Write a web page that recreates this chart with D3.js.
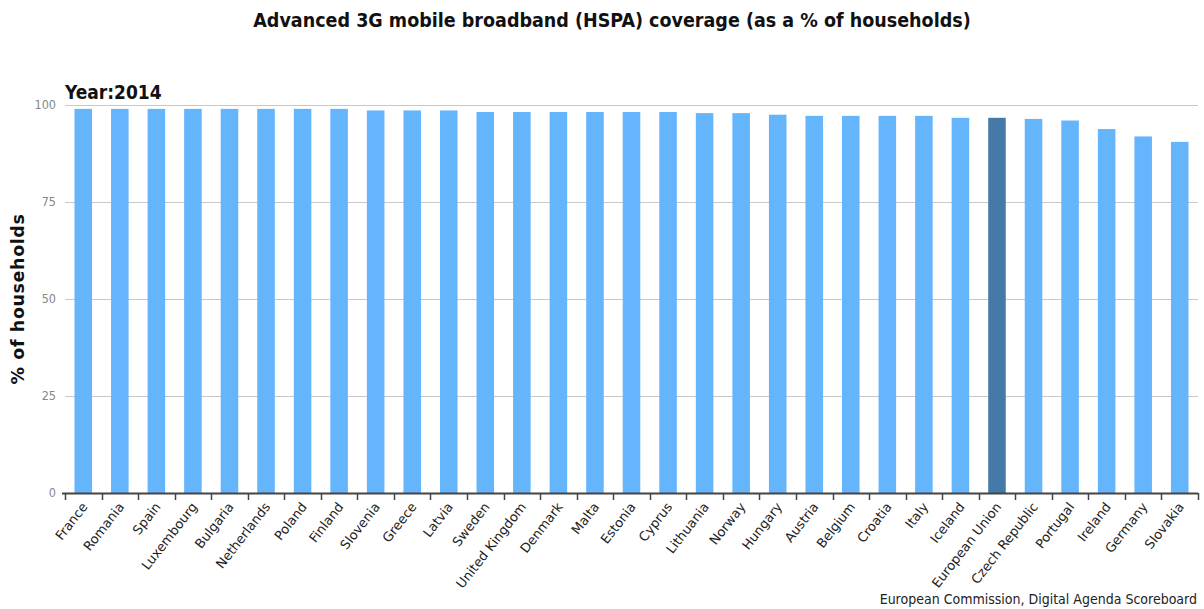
<!DOCTYPE html>
<html>
<head>
<meta charset="utf-8">
<script src="https://cdn.jsdelivr.net/npm/d3@7"></script>
<style>
  body { margin: 0; background: #fff; }
  svg { display: block; }
</style>
</head>
<body>
<div id="chart"></div>
<script>
const countries = [
    'France', 'Romania', 'Spain', 'Luxembourg', 'Bulgaria', 'Netherlands', 'Poland', 'Finland',
    'Slovenia', 'Greece', 'Latvia', 'Sweden', 'United Kingdom', 'Denmark', 'Malta', 'Estonia',
    'Cyprus', 'Lithuania', 'Norway', 'Hungary', 'Austria', 'Belgium', 'Croatia', 'Italy',
    'Iceland', 'European Union', 'Czech Republic', 'Portugal', 'Ireland', 'Germany', 'Slovakia'
];
const coverage = [
    99.0, 99.0, 99.0, 99.0, 99.0, 99.0, 99.0, 99.0,
    98.6, 98.6, 98.6, 98.2, 98.2, 98.2, 98.2, 98.2,
    98.2, 97.9, 97.9, 97.5, 97.2, 97.2, 97.2, 97.2,
    96.7, 96.7, 96.4, 96.0, 93.8, 91.9, 90.5
];
const yTicks = [0, 25, 50, 75, 100];
const highlight = 'European Union';

const width = 1204;
const height = 609;
const margin = { top: 105, right: 6, bottom: 116, left: 65 };

const data = countries.map((c, i) => ({ label: c, value: coverage[i] }));

const svg = d3.select('#chart')
    .append('svg')
    .attr('width', width)
    .attr('height', height);

const x = d3.scaleBand()
    .domain(countries)
    .range([margin.left, width - margin.right])
    .paddingInner(0.52)
    .paddingOuter(0.26);

const y = d3.scaleLinear()
    .domain([0, 100])
    .range([height - margin.bottom, margin.top]);

// Title
svg.append('text')
    .attr('x', 612)
    .attr('y', 27)
    .attr('text-anchor', 'middle')
    .style('font-family', '"DejaVu Sans Condensed", "DejaVu Sans", sans-serif')
    .style('font-weight', 'bold')
    .style('font-size', '19.5px')
    .style('fill', '#111')
    .text('Advanced 3G mobile broadband (HSPA) coverage (as a % of households)');

svg.append('text')
    .attr('x', margin.left)
    .attr('y', 99)
    .style('font-family', '"DejaVu Sans Condensed", "DejaVu Sans", sans-serif')
    .style('font-weight', 'bold')
    .style('font-size', '19px')
    .style('fill', '#111')
    .text('Year:2014');

// Grid lines
svg.append('g')
    .selectAll('line')
    .data(yTicks.filter(d => d > 0))
    .enter()
    .append('line')
    .attr('x1', margin.left)
    .attr('x2', width - margin.right)
    .attr('y1', d => Math.round(y(d)) + 0.5)
    .attr('y2', d => Math.round(y(d)) + 0.5)
    .style('stroke', '#c8c8c8')
    .style('stroke-width', 1);

// Y axis labels
svg.append('g')
    .selectAll('text')
    .data(yTicks)
    .enter()
    .append('text')
    .attr('x', 56)
    .attr('y', d => y(d) + 4)
    .attr('text-anchor', 'end')
    .style('font-family', '"DejaVu Sans Condensed", "DejaVu Sans", sans-serif')
    .style('font-size', '12.5px')
    .style('fill', '#888')
    .text(d => d);

svg.append('text')
    .attr('transform', `translate(24, ${(y(0) + y(100)) / 2}) rotate(-90)`)
    .attr('text-anchor', 'middle')
    .style('font-family', '"DejaVu Sans", sans-serif')
    .style('font-weight', 'bold')
    .style('font-size', '17.5px')
    .style('letter-spacing', '0.6px')
    .style('fill', '#111')
    .text('% of households');

// Bars
svg.append('g')
    .selectAll('rect')
    .data(data)
    .enter()
    .append('rect')
    .attr('x', d => x(d.label))
    .attr('y', d => y(d.value))
    .attr('width', x.bandwidth())
    .attr('height', d => y(0) - y(d.value))
    .style('fill', d => d.label === highlight ? '#4479a8' : '#64b5fc');

// X axis line and ticks at band edges
const plotWidth = width - margin.right - margin.left;
const tickX = countries.map((c, i) => margin.left + i * plotWidth / countries.length);
tickX.push(width - margin.right);

const axis = svg.append('g');
axis.append('line')
    .attr('x1', margin.left - 3)
    .attr('x2', width - margin.right)
    .attr('y1', y(0) + 0.5)
    .attr('y2', y(0) + 0.5)
    .style('stroke', '#444')
    .style('stroke-width', 2);

axis.selectAll('.tick')
    .data(tickX)
    .enter()
    .append('line')
    .attr('x1', d => Math.round(d) + 0.5)
    .attr('x2', d => Math.round(d) + 0.5)
    .attr('y1', y(0))
    .attr('y2', y(0) + 7)
    .style('stroke', '#444')
    .style('stroke-width', 1.5);

axis.selectAll('.xlabel')
    .data(countries)
    .enter()
    .append('text')
    .attr('text-anchor', 'end')
    .attr('transform', d => `translate(${x(d) + x.bandwidth() / 2 + 5}, ${y(0) + 14}) rotate(-52)`)
    .style('font-family', '"DejaVu Sans", sans-serif')
    .style('font-size', '13px')
    .style('fill', '#222')
    .text(d => d);

// Source
svg.append('text')
    .attr('x', 1197)
    .attr('y', 604)
    .attr('text-anchor', 'end')
    .style('font-family', '"DejaVu Sans Condensed", "DejaVu Sans", sans-serif')
    .style('font-size', '14px')
    .style('fill', '#222')
    .text('European Commission, Digital Agenda Scoreboard');
</script>
</body>
</html>
